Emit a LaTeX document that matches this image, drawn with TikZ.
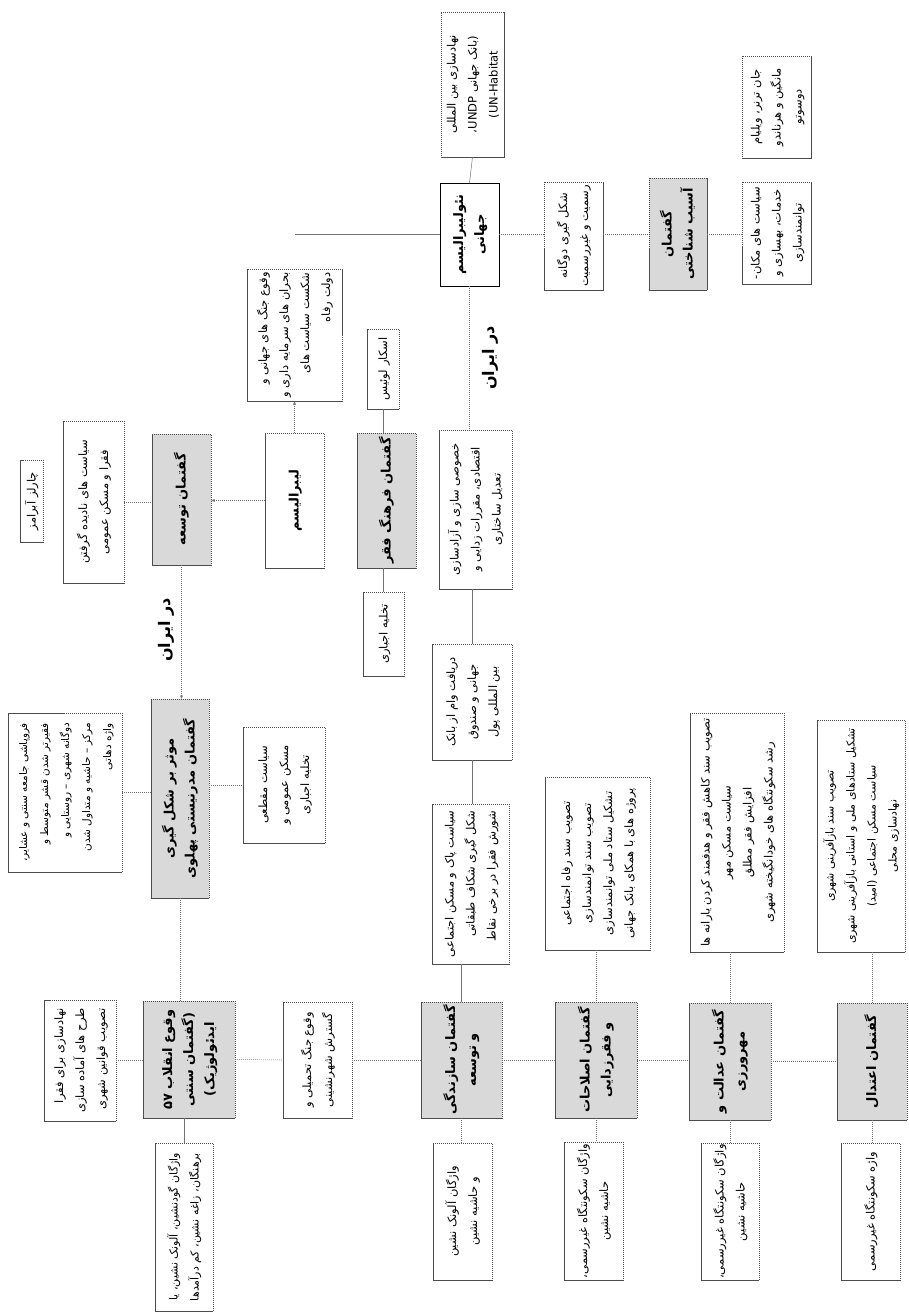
\documentclass[tikz,border=0pt]{standalone}
\usepackage{fontspec}
\usepackage{graphicx}
\usetikzlibrary{arrows.meta}
\TeXXeTstate=1
\newfontfamily\fafont[Script=Arabic]{DejaVu Sans}
\newcommand\fa[1]{{\fafont\beginR #1\endR}}
\newcommand\vt[2][c]{\rotatebox{90}{\begin{tabular}{@{}#1@{}}#2\end{tabular}}}
\begin{document}
\begin{tikzpicture}[x=1pt,y=-1pt,
  every node/.style={inner sep=0pt, outer sep=0pt},
  sz/.style 2 args={minimum width=#1pt, minimum height=#2pt},
  wbox/.style={rectangle, draw=black!70, line width=0.55pt, dash pattern=on 1.5pt off 0.5pt, fill=white, font=\fontsize{11.5}{21}\selectfont},
  gbox/.style={rectangle, draw=black!70, line width=0.55pt, dash pattern=on 1.5pt off 0.5pt, fill=black!15, font=\fontsize{13}{21}\selectfont\bfseries},
  nbox/.style={rectangle, draw=black, line width=0.75pt, fill=white, font=\fontsize{13}{21}\selectfont\bfseries},
  conn/.style={draw=black!55, line width=0.5pt, dash pattern=on 1pt off 1pt},
  sconn/.style={draw=black!55, line width=0.5pt},
  arrow/.style={conn, -{Latex[length=3.5pt,width=3pt]}},
  lbl/.style={font=\fontsize{16}{18}\selectfont\bfseries}
]
\fill[white] (0,0) rectangle (909,1313);
\useasboundingbox (0,0) rectangle (909,1313);

% top row
\node[wbox, sz={63}{145}] (undp) at (472.5,84.5) {\vt{\fa{نهادسازی بین المللی}\\ \fa{(بانک جهانی \beginL UNDP\endL،}\\ {\fafont (UN-Habitat}}};
\node[wbox, sz={69}{102}] (turner) at (776.5,107) {\vt{\fa{جان ترنر، ویلیام}\\ \fa{مانگین و هرناندو}\\ \fa{دوسوتو}}};
\node[nbox, sz={59}{103}] (neo) at (469.5,234.5) {\vt{\fa{نئولیبرالیسم}\\ \fa{جهانی}}};
\node[wbox, sz={59}{108}] (shekl) at (573.5,236) {\vt{\fa{شکل گیری دوگانه}\\ \fa{رسمیت و غیررسمیت}}};
\node[gbox, sz={58}{112}] (asib) at (678,234) {\vt{\fa{گفتمان}\\ \fa{آسیب شناختی}}};
\node[wbox, sz={69}{102}] (makan) at (776.5,233) {\vt{\fa{سیاست های مکان-}\\ \fa{خدمات، بهسازی و}\\ \fa{توانمندسازی}}};
\node[wbox, sz={95}{132}] (jang) at (294.5,335) {\vt[r]{\fa{وقوع جنگ های جهانی و}\\ \fa{بحران های سرمایه داری و}\\ \fa{شکست سیاست های}\\ \fa{دولت رفاه}}};

% second row
\node[wbox, sz={23}{82}] (abrams) at (31.5,501) {\vt{\fa{چارلز آبرامز}}};
\node[wbox, sz={61}{162}] (nadide) at (93.5,502) {\vt{\fa{سیاست های نادیده گرفتن}\\ \fa{فقرا و مسکن عمومی}}};
\node[gbox, sz={59}{131}] (tose) at (181.5,499.5) {\vt{\fa{گفتمان توسعه}}};
\node[nbox, draw=black!70, line width=0.55pt, dash pattern=on 1.5pt off 0.5pt, sz={59}{135}] (liberal) at (294.5,500.5) {\vt{\fa{لیبرالیسم}}};
\node[wbox, sz={32}{80}] (lewis) at (383,369) {\vt{\fa{اسکار لوئیس}}};
\node[gbox, sz={59}{135}] (farhang) at (386.5,500.5) {\vt{\fa{گفتمان فرهنگ فقر}}};
\node[wbox, sz={41}{84}] (takhlie) at (383.5,634) {\vt{\fa{تخلیه اجباری}}};
\node[wbox, sz={73}{159}] (khosusi) at (475.5,509.5) {\vt{\fa{خصوصی سازی و آزادسازی}\\ \fa{اقتصادی، مقررات زدایی و}\\ \fa{تعدیل ساختاری}}};
\node[wbox, sz={80}{116}] (vam) at (472,702) {\vt{\fa{دریافت وام از بانک}\\ \fa{جهانی و صندوق}\\ \fa{بین المللی پول}}};

% third row
\node[wbox, font=\fontsize{10.5}{21}\selectfont, sz={114}{159}] (forupashi) at (65,792.5) {\vt[r]{\fa{فروپاشی جامعه سنتی و عشایر،}\\ \fa{فقیرتر شدن قشر متوسط و}\\ \fa{دوگانه شهری – روستایی و}\\ \fa{مرکز – حاشیه و متداول شدن}\\ \fa{واژه دهاتی}}};
\node[gbox, sz={58}{199}] (modern) at (180,798.5) {\vt{\fa{موثر بر شکل گیری}\\ \fa{گفتمان مدرنیستی پهلوی}}};
\node[wbox, sz={82}{116}] (maghtai) at (284,785) {\vt{\fa{سیاست مقطعی}\\ \fa{مسکن عمومی و}\\ \fa{تخلیه اجباری}}};
\node[wbox, sz={77}{160}] (pak) at (470.5,884) {\vt[r]{\fa{سیاست پاک و مسکن اجتماعی}\\ \fa{شکل گیری شکاف طبقاتی}\\ \fa{شورش فقرا در برخی نقاط}}};
\node[wbox, sz={105}{173}] (refah) at (597.5,863.5) {\vt{\fa{تصویب سند رفاه اجتماعی}\\ \fa{تصویب سند توانمندسازی}\\ \fa{تشکیل ستاد ملی توانمندسازی}\\ \fa{پروژه های با همکای بانک جهانی}}};
\node[wbox, sz={94}{239}] (kahesh) at (737,832.5) {\vt{\fa{تصویب سند کاهش فقر و هدفمند کردن یارانه ها}\\ \fa{سیاست مسکن مهر}\\ \fa{افزایش فقر مطلق}\\ \fa{رشد سکونتگاه های خودانگیخته شهری}}};
\node[wbox, font=\fontsize{11}{21}\selectfont, sz={88}{232}] (bazafarini) at (861,836) {\vt{\fa{تصویب سند بازآفرینی شهری}\\ \fa{تشکیل ستادهای ملی و استانی بازآفرینی شهری}\\ \fa{سیاست مسکن اجتماعی (امید)}\\ \fa{نهادسازی محلی}}};

% bottom row
\node[wbox, sz={72}{121}] (nahad) at (80,1060.5) {\vt[r]{\fa{نهادسازی برای فقرا}\\ \fa{طرح های آماده سازی}\\ \fa{تصویب قوانین شهری}}};
\node[gbox, sz={92}{117}] (enghelab) at (189,1059.5) {\vt{\fa{وقوع انقلاب ۵۷}\\ \fa{(گفتمان سنتی}\\ \fa{ایدئولوژیک)}}};
\node[wbox, font=\fontsize{11}{21}\selectfont, sz={58}{168}] (gowd) at (184,1227) {\vt[r]{\fa{واژگان گودنشین، آلونک نشین، یا}\\ \fa{برهنگان، زاغه نشین، کم درآمدها}}};
\node[wbox, sz={69}{116}] (tahmili) at (317.5,1060) {\vt{\fa{وقوع جنگ تحمیلی و}\\ \fa{گسترش شهرنشینی}}};
\node[gbox, sz={81}{116}] (sazandegi) at (461.5,1060) {\vt{\fa{گفتمان سازندگی}\\ \fa{و توسعه}}};
\node[wbox, sz={59}{137}] (alunak) at (462.5,1211.5) {\vt{\fa{واژگان آلونک نشین}\\ \fa{و حاشیه نشین}}};
\node[gbox, sz={82}{116}] (eslahat) at (596,1060) {\vt{\fa{گفتمان اصلاحات}\\ \fa{و فقرزدایی}}};
\node[wbox, sz={59}{138}] (vazhe1) at (593.5,1211) {\vt{\fa{واژگان سکونتگاه غیررسمی،}\\ \fa{حاشیه نشین}}};
\node[gbox, sz={82}{117}] (edalat) at (730,1061.5) {\vt{\fa{گفتمان عدالت و}\\ \fa{مهرورزی}}};
\node[wbox, sz={58}{137}] (vazhe2) at (730,1211.5) {\vt{\fa{واژگان سکونتگاه غیررسمی،}\\ \fa{حاشیه نشین}}};
\node[gbox, sz={70}{117}] (etedal) at (872,1061.5) {\vt{\fa{گفتمان اعتدال}}};
\node[wbox, sz={59}{137}] (vazhe3) at (870.5,1211.5) {\vt{\fa{واژه سکونتگاه غیررسمی}}};

% labels
\node[lbl] (iran1) at (166,630) {\rotatebox{90}{\fa{در ایران}}};
\node[lbl] (iran2) at (490,358) {\rotatebox{90}{\fa{در ایران}}};

% connectors
\coordinate (topstart) at (295,234.5);
\draw[sconn] (topstart) -- (neo.west);
\draw[sconn] (undp.south) -- (neo.north);
\draw[conn] (neo.east) -- (shekl.west |- neo.east);
\draw[conn] (shekl.east |- asib.west) -- (asib.west);
\draw[conn] (asib.east) -- (makan.west |- asib.east);
\draw[conn] (neo.south) -- (neo.south |- khosusi.north);
\draw[sconn] (vam.north |- khosusi.south) -- (vam.north);
\draw[sconn] (vam.south) -- (vam.south |- pak.north);
\draw[sconn] (sazandegi.north |- pak.south) -- (sazandegi.north);
\draw[conn] (sazandegi.south) -- (sazandegi.south |- alunak.north);
\draw[conn] (eslahat.north |- refah.south) -- (eslahat.north);
\draw[conn] (eslahat.south) -- (eslahat.south |- vazhe1.north);
\draw[conn] (edalat.north |- kahesh.south) -- (edalat.north);
\draw[conn] (edalat.south) -- (edalat.south |- vazhe2.north);
\draw[conn] (etedal.north |- bazafarini.south) -- (etedal.north);
\draw[conn] (etedal.south) -- (etedal.south |- vazhe3.north);
\draw[conn] (nahad.east) -- (enghelab.west |- nahad.east);
\draw[conn] (enghelab.east) -- (tahmili.west);
\draw[conn] (tahmili.east) -- (sazandegi.west);
\draw[conn] (sazandegi.east) -- (eslahat.west);
\draw[conn] (eslahat.east) -- (edalat.west |- eslahat.east);
\draw[conn] (edalat.east) -- (etedal.west);
\draw[sconn] (gowd.north |- enghelab.south) -- (gowd.north);
\draw[conn] (modern.south) -- (modern.south |- enghelab.north);
\draw[arrow] (tose.south) -- (tose.south |- modern.north);
\draw[conn] (forupashi.east) -- (modern.west |- forupashi.east);
\draw[conn] (modern.east |- maghtai.west) -- (maghtai.west);
\draw[conn] (nadide.east) -- (tose.west |- nadide.east);
\draw[arrow] (liberal.west) -- (tose.east |- liberal.west);
\draw[arrow] (liberal.north) -- (jang.south);
\draw[sconn] (lewis.south) -- (lewis.south |- farhang.north);
\draw[sconn] (takhlie.north |- farhang.south) -- (takhlie.north);
\end{tikzpicture}
\end{document}
